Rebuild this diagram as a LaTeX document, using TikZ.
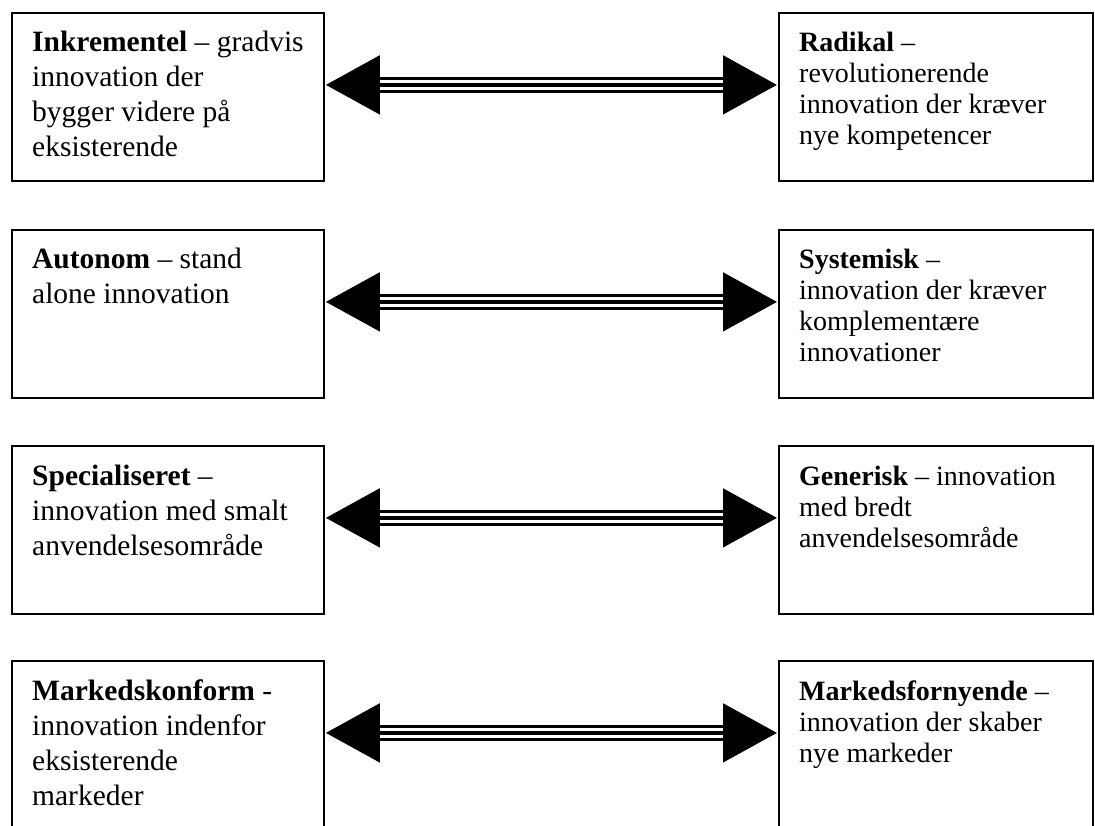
\documentclass[tikz,border=0pt]{standalone}
\usepackage{fontspec}
\setmainfont{Liberation Serif}
\usetikzlibrary{arrows.meta}

% text blocks: the left column is set a little larger than the right one
\newcommand\lefttext[1]{\parbox[t]{290pt}{\raggedright\fontsize{29.5}{35}\selectfont #1}}
\newcommand\righttext[1]{\parbox[t]{290pt}{\raggedright\fontsize{28}{31}\selectfont #1}}

\begin{document}
\begin{tikzpicture}[x=1pt,y=-1pt,
  box/.style={draw=black, line width=1.8pt, fill=white, inner sep=0pt,
    anchor=north west, minimum height=168pt},
  leftbox/.style={box, minimum width=312pt},
  rightbox/.style={box, minimum width=314pt},
  txt/.style={inner sep=0pt, anchor=base west},
  shaft/.style={line width=16pt, black, {Triangle[length=55pt,width=55pt]}-{Triangle[length=55pt,width=55pt]}},
  stripes/.style={draw=white, line width=3pt, double=black, double distance=4.5pt,
    shorten <=55pt, shorten >=55pt}
]
\useasboundingbox (0,0) rectangle (1095,826);

% boxes, one pair per row
\node[leftbox]  (L1) at (11,12)  {};
\node[rightbox] (R1) at (778,12) {};
\node[leftbox]  (L2) at (11,229)  {};
\node[rightbox] (R2) at (778,229) {};
\node[leftbox]  (L3) at (11,445)  {};
\node[rightbox] (R3) at (778,445) {};
\node[leftbox]  (L4) at (11,660)  {};
\node[rightbox] (R4) at (778,660) {};

% texts
\node[txt] (L1t) at ([xshift=21pt,yshift=-40pt]L1.north west)
  {\lefttext{\textbf{Inkrementel} – gradvis\\innovation der\\bygger videre på\\eksisterende}};
\node[txt] (R1t) at ([xshift=21pt,yshift=-40pt]R1.north west)
  {\righttext{\textbf{Radikal} –\\revolutionerende\\innovation der kræver\\nye kompetencer}};
\node[txt] (L2t) at ([xshift=21pt,yshift=-40pt]L2.north west)
  {\lefttext{\textbf{Autonom} – stand\\alone innovation}};
\node[txt] (R2t) at ([xshift=21pt,yshift=-40pt]R2.north west)
  {\righttext{\textbf{Systemisk} –\\innovation der kræver\\komplementære\\innovationer}};
\node[txt] (L3t) at ([xshift=21pt,yshift=-40pt]L3.north west)
  {\lefttext{\textbf{Specialiseret} –\\innovation med smalt\\anvendelsesområde}};
\node[txt] (R3t) at ([xshift=21pt,yshift=-40pt]R3.north west)
  {\righttext{\textbf{Generisk} – innovation\\med bredt\\anvendelsesområde}};
\node[txt] (L4t) at ([xshift=21pt,yshift=-40pt]L4.north west)
  {\lefttext{\textbf{Markedskonform} -\\innovation indenfor\\eksisterende\\markeder}};
\node[txt] (R4t) at ([xshift=21pt,yshift=-40pt]R4.north west)
  {\righttext{\textbf{Markedsfornyende} –\\innovation der skaber\\nye markeder}};

% double-headed triple-line arrows between the pairs
\foreach \r in {1,2,3,4}{
  \draw[shaft]   ([yshift=12pt]L\r.east) -- ([yshift=12pt]R\r.west);
  \draw[stripes] ([yshift=12pt]L\r.east) -- ([yshift=12pt]R\r.west);
}
\end{tikzpicture}
\end{document}
